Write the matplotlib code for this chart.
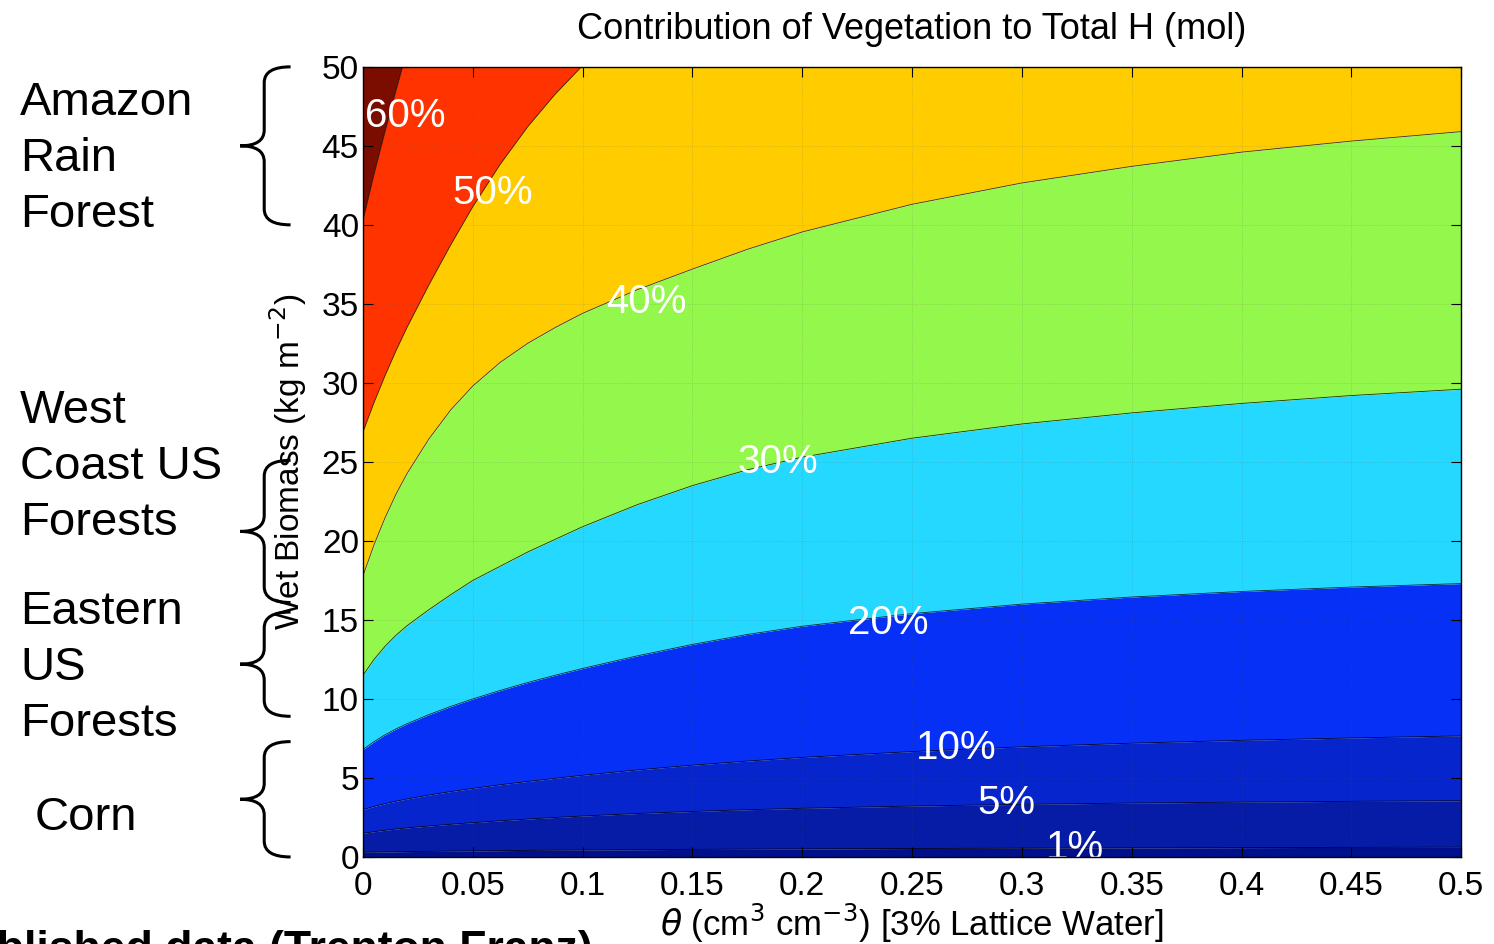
"""
Contour map: share of the vegetation in the total hydrogen pool,
for wet biomass vs. soil moisture (3% lattice water).
"""

import numpy as np
import matplotlib
matplotlib.use("Agg")
import matplotlib.pyplot as plt
import matplotlib.font_manager as fm
import matplotlib.transforms as mtransforms
from matplotlib.path import Path
from matplotlib.patches import PathPatch
from matplotlib.ticker import FuncFormatter

# Helvetica-like font if we have one
for _f in ["Liberation Sans", "Arial", "DejaVu Sans"]:
    if any(_f.lower() == f.name.lower() for f in fm.fontManager.ttflist):
        plt.rcParams["font.family"] = _f
        break

# soil moisture columns (cm3 cm-3)
theta = [0, 0.005, 0.01, 0.015, 0.02, 0.03, 0.04, 0.05, 0.0625, 0.075, 0.0875,
         0.1, 0.125, 0.15, 0.175, 0.2, 0.25, 0.3, 0.35, 0.4, 0.45, 0.5]

# wet biomass (kg m-2) at which each contour sits, read per theta column
# (values above 50 are past the top of the plot)
b_1 = [0.30, 0.31, 0.32, 0.33, 0.34, 0.355, 0.37, 0.385, 0.40, 0.415, 0.43,
       0.44, 0.46, 0.48, 0.495, 0.51, 0.535, 0.555, 0.575, 0.59, 0.605, 0.62]
b_5 = [1.5, 1.6, 1.69, 1.77, 1.84, 1.96, 2.07, 2.17, 2.29, 2.4, 2.5,
       2.59, 2.75, 2.88, 2.99, 3.08, 3.22, 3.33, 3.41, 3.47, 3.52, 3.56]
b_10 = [3.0, 3.2, 3.375, 3.53, 3.67, 3.92, 4.14, 4.34, 4.57, 4.78, 4.98,
        5.17, 5.51, 5.81, 6.07, 6.3, 6.67, 6.97, 7.2, 7.38, 7.53, 7.66]
b_20 = [6.8, 7.3, 7.73, 8.1, 8.43, 9.01, 9.53, 10.0, 10.54, 11.04, 11.5,
        11.93, 12.73, 13.45, 14.08, 14.6, 15.4, 16.0, 16.45, 16.8, 17.08, 17.3]
b_30 = [11.5, 12.5, 13.33, 14.03, 14.63, 15.65, 16.6, 17.5, 18.4, 19.3, 20.1,
        20.9, 22.3, 23.5, 24.5, 25.3, 26.5, 27.4, 28.1, 28.7, 29.2, 29.6]
b_40 = [17.8, 19.75, 21.45, 22.95, 24.25, 26.45, 28.3, 29.8, 31.3, 32.5, 33.5,
        34.4, 35.9, 37.2, 38.45, 39.55, 41.3, 42.65, 43.7, 44.6, 45.3, 45.9]
b_50 = [26.9, 28.75, 30.45, 32.03, 33.5, 36.2, 38.75, 41.15, 43.84, 46.21, 48.27,
        50.08, 53.3, 56.3, 59.0, 61.5, 65.5, 69.0, 72.0, 74.5, 76.5, 78.5]
b_60 = [40.3, 43.2, 45.9, 48.5, 51.0, 55.8, 60.3, 64.5, 69.5, 74.0, 78.0,
        82.0, 89.0, 95.0, 100.0, 105.0, 113.0, 120.0, 126.0, 131.0, 135.0, 139.0]

band_colors = ["#00108c", "#061ba6", "#0725cc", "#0630f5", "#25d8ff",
               "#94f74b", "#ffcc00", "#ff3300", "#7a0c00"]

# in-plot labels
label_text = ["60%", "50%", "40%", "30%", "20%", "10%", "5%", "1%"]
label_theta = [0.019, 0.059, 0.129, 0.189, 0.239, 0.270, 0.293, 0.324]
label_biomass = [46.9, 42.0, 35.1, 25.0, 14.8, 6.9, 3.4, 0.55]

# biomass ranges of typical sites
site_names = ["Amazon\nRain\nForest", "West\nCoast US\nForests",
              "Eastern\nUS\nForests", "Corn"]
site_lo = [40.0, 16.1, 8.9, 0.0]
site_hi = [50.0, 25.1, 15.5, 7.3]

fig = plt.figure(figsize=(14.94, 9.44), dpi=100)
ax = fig.add_axes([0.243, 0.0922, 0.735, 0.837])

# colour bands between consecutive contours, then the contour lines
edges = [np.zeros(len(theta)), b_1, b_5, b_10, b_20, b_30, b_40, b_50, b_60,
         np.full(len(theta), 200.0)]
for lo, hi, c in zip(edges[:-1], edges[1:], band_colors):
    ax.fill_between(theta, lo, hi, color=c, linewidth=0, zorder=1)
for b in edges[1:-1]:
    ax.plot(theta, b, color="k", linewidth=0.6, alpha=0.8, zorder=2)

for s, t, b in zip(label_text, label_theta, label_biomass):
    ax.text(t, b, s, color="white", fontsize=29, ha="center", va="center",
            clip_on=True, zorder=3)

ax.set_xlim(0, 0.5)
ax.set_ylim(0, 50)
ax.set_xticks(np.arange(0, 0.501, 0.05))
ax.set_yticks(np.arange(0, 51, 5))
ax.xaxis.set_major_formatter(FuncFormatter(lambda v, _: f"{v:g}"))
ax.tick_params(direction="in", length=7, width=0.8, top=True, right=True,
               labelsize=24)
ax.tick_params(axis="x", pad=10)
ax.tick_params(axis="y", pad=3)
ax.grid(True, linestyle=":", color="#555555", linewidth=0.6, alpha=0.25)
ax.set_axisbelow(False)
for sp in ax.spines.values():
    sp.set_linewidth(1.0)
    sp.set_zorder(4)

ax.set_title("Contribution of Vegetation to Total H (mol)", fontsize=26, pad=20)
ax.set_xlabel(r"$\theta$ (cm$^3$ cm$^{-3}$) [3% Lattice Water]", fontsize=25,
              labelpad=0)
ax.set_ylabel(r"Wet Biomass (kg m$^{-2}$)", fontsize=24)
ax.yaxis.set_label_coords(-0.049, 0.5)

# curly braces in the left margin (x in axes fraction, y in biomass)
trans = mtransforms.blended_transform_factory(ax.transAxes, ax.transData)
x_end, x_bar, x_tip = -0.066, -0.090, -0.112
for lo, hi in zip(site_lo, site_hi):
    mid = (lo + hi) / 2
    r = 1.0
    verts = [(x_end, hi), (x_bar, hi), (x_bar, hi - r),
             (x_bar, mid + r), (x_bar, mid), (x_tip, mid),
             (x_bar, mid), (x_bar, mid - r),
             (x_bar, lo + r), (x_bar, lo), (x_end, lo)]
    codes = [Path.MOVETO, Path.CURVE3, Path.CURVE3,
             Path.LINETO, Path.CURVE3, Path.CURVE3,
             Path.CURVE3, Path.CURVE3,
             Path.LINETO, Path.CURVE3, Path.CURVE3]
    ax.add_patch(PathPatch(Path(verts, codes), transform=trans, fill=False,
                           edgecolor="black", linewidth=2.2, clip_on=False))

# site names
site_x = [0.0134, 0.0134, 0.0134, 0.0234]
site_y = [0.8316, 0.5053, 0.2924, 0.134]
for name, x, y in zip(site_names, site_x, site_y):
    fig.text(x, y, name, fontsize=34, ha="left", va="center", linespacing=1.36)

fig.text(-0.078, 0.015, "Unpublished data (Trenton Franz)", fontsize=32,
         fontweight="bold", ha="left", va="top")

fig.savefig("out.png", dpi=100)
plt.close(fig)
